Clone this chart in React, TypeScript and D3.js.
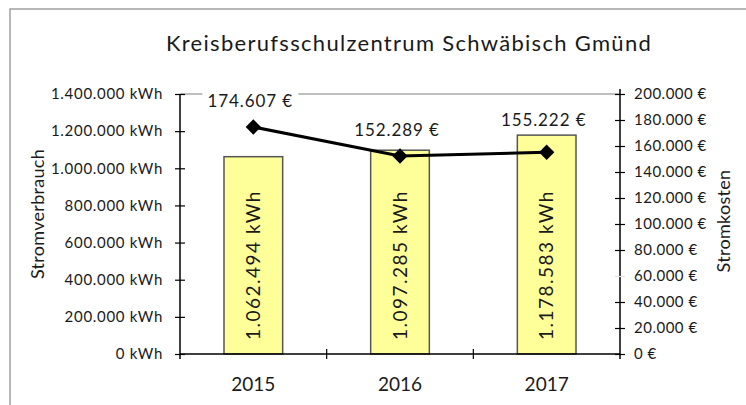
import React, { useEffect, useRef } from "react";
import * as d3 from "d3";

const years = ["2015", "2016", "2017"];
const consumption = [1062494, 1097285, 1178583];
const costs = [174607, 152289, 155222];
const kwhTicks = [0, 200000, 400000, 600000, 800000, 1000000, 1200000, 1400000];
const euroTicks = [0, 20000, 40000, 60000, 80000, 100000, 120000, 140000, 160000, 180000, 200000];

const FONT = "Lato, 'DejaVu Sans', sans-serif";

const App = () => {
  const ref = useRef<SVGSVGElement | null>(null);

  useEffect(() => {
    const width = 746;
    const height = 405;
    const margin = { top: 94, right: 126, bottom: 51, left: 180 };
    const de = d3.formatLocale({ decimal: ",", thousands: ".", grouping: [3], currency: ["", " €"] });
    const fmt = de.format(",.0f");

    const svg = d3.select(ref.current);
    svg.selectAll("*").remove();

    // outer chart frame (runs off to the right and bottom)
    svg
      .append("rect")
      .attr("x", 10)
      .attr("y", 9)
      .attr("width", 800)
      .attr("height", 500)
      .attr("fill", "white")
      .attr("stroke", "#a0a0a0")
      .attr("stroke-width", 1.5);

    const x = d3
      .scaleBand()
      .domain(years)
      .range([margin.left, width - margin.right]);

    const yL = d3
      .scaleLinear()
      .domain([0, 1400000])
      .range([height - margin.bottom, margin.top]);

    const yR = d3
      .scaleLinear()
      .domain([0, 200000])
      .range([height - margin.bottom, margin.top]);

    const barW = x.bandwidth() / 2.5;

    svg
      .append("text")
      .attr("x", 409)
      .attr("y", 51)
      .attr("text-anchor", "middle")
      .attr("font-family", FONT)
      .attr("font-size", 22)
      .attr("letter-spacing", 1.3)
      .attr("fill", "#1a1a1a")
      .text("Kreisberufsschulzentrum Schwäbisch Gmünd");

    // plot area top border
    svg
      .append("line")
      .attr("x1", margin.left)
      .attr("x2", width - margin.right)
      .attr("y1", margin.top)
      .attr("y2", margin.top)
      .attr("stroke", "#808080")
      .attr("stroke-width", 1.2);

    // bars
    svg
      .selectAll("rect.bar")
      .data(consumption)
      .join("rect")
      .attr("class", "bar")
      .attr("x", (d, i) => x(years[i])! + (x.bandwidth() - barW) / 2)
      .attr("y", (d) => yL(d))
      .attr("width", barW)
      .attr("height", (d) => yL(0) - yL(d))
      .attr("fill", "#ffff99")
      .attr("stroke", "#555")
      .attr("stroke-width", 1.5);

    svg
      .selectAll("text.barlabel")
      .data(consumption)
      .join("text")
      .attr("class", "barlabel")
      .attr("transform", (d, i) => `translate(${x(years[i])! + x.bandwidth() / 2},${yL(0) - 14}) rotate(-90)`)
      .attr("dy", "0.35em")
      .attr("font-family", FONT)
      .attr("font-size", 19)
      .attr("letter-spacing", 1.5)
      .attr("fill", "#1a1a1a")
      .text((d) => `${fmt(d)} kWh`);

    // left axis
    const gL = svg
      .append("g")
      .attr("transform", `translate(${margin.left},0)`)
      .call(d3.axisLeft(yL).tickValues(kwhTicks).tickSizeOuter(0).tickFormat((d) => `${fmt(d as number)} kWh`));
    gL.select(".domain").attr("stroke", "#000").attr("stroke-width", 1.5).attr("d", `M0,${margin.top}V${yL(0) + 5}`);
    gL.selectAll(".tick line").attr("x1", -5).attr("x2", 5).attr("stroke", "#000").attr("stroke-width", 1.2);
    gL.selectAll(".tick text")
      .attr("x", -17)
      .attr("font-family", FONT)
      .attr("font-size", 15)
      .attr("letter-spacing", 0.7)
      .attr("fill", "#1a1a1a");

    // right axis
    const gR = svg
      .append("g")
      .attr("transform", `translate(${width - margin.right},0)`)
      .call(d3.axisRight(yR).tickValues(euroTicks).tickSizeOuter(0).tickFormat((d) => `${fmt(d as number)} €`));
    gR.select(".domain").attr("stroke", "#000").attr("stroke-width", 1.5).attr("d", `M0,${margin.top - 5}V${yL(0) + 5}`);
    gR.selectAll(".tick line")
      .attr("x1", -5)
      .attr("x2", 5)
      .attr("stroke", (d) => ((d as number) === 60000 ? "#e0e0e0" : "#000"))
      .attr("stroke-width", 1.2);
    gR.selectAll(".tick text")
      .attr("x", 14)
      .attr("font-family", FONT)
      .attr("font-size", 15)
      .attr("letter-spacing", 0.5)
      .attr("fill", "#1a1a1a");

    // bottom axis
    const gB = svg
      .append("g")
      .attr("transform", `translate(0,${yL(0)})`)
      .call(d3.axisBottom(x).tickSize(0).tickPadding(24));
    gB.select(".domain").attr("stroke", "#000").attr("stroke-width", 1.5).attr("d", `M${margin.left},0H${width - margin.right}`);
    gB.selectAll(".tick text").attr("font-family", FONT).attr("font-size", 19).attr("fill", "#1a1a1a");
    gB.selectAll("line.cat")
      .data(years.slice(1))
      .join("line")
      .attr("class", "cat")
      .attr("x1", (d) => x(d)!)
      .attr("x2", (d) => x(d)!)
      .attr("y1", -5)
      .attr("y2", 5)
      .attr("stroke", "#000")
      .attr("stroke-width", 1.2);

    // axis titles
    svg
      .append("text")
      .attr("transform", `translate(38,214) rotate(-90)`)
      .attr("text-anchor", "middle")
      .attr("dy", "0.35em")
      .attr("font-family", FONT)
      .attr("font-size", 18)
      .attr("letter-spacing", 0.3)
      .attr("fill", "#1a1a1a")
      .text("Stromverbrauch");
    svg
      .append("text")
      .attr("transform", `translate(724,221) rotate(-90)`)
      .attr("text-anchor", "middle")
      .attr("dy", "0.35em")
      .attr("font-family", FONT)
      .attr("font-size", 18)
      .attr("letter-spacing", 0.3)
      .attr("fill", "#1a1a1a")
      .text("Stromkosten");

    // cost line
    const line = d3
      .line<number>()
      .x((d, i) => x(years[i])! + x.bandwidth() / 2)
      .y((d) => yR(d));

    svg
      .append("path")
      .datum(costs)
      .attr("fill", "none")
      .attr("stroke", "#000")
      .attr("stroke-width", 3)
      .attr("d", line);

    svg
      .selectAll("path.marker")
      .data(costs)
      .join("path")
      .attr("class", "marker")
      .attr("transform", (d, i) => `translate(${x(years[i])! + x.bandwidth() / 2},${yR(d)})`)
      .attr("d", d3.symbol(d3.symbolDiamond2, 150)())
      .attr("fill", "#000");

    // cost labels sit above the point and clear of the bar top
    const labels = svg
      .selectAll("g.costlabel")
      .data(costs)
      .join("g")
      .attr("class", "costlabel")
      .attr(
        "transform",
        (d, i) => `translate(${x(years[i])! + x.bandwidth() / 2 - 3},${Math.min(yR(d) - 20, yL(consumption[i]) - 9)})`,
      );
    labels
      .append("rect")
      .attr("x", -48)
      .attr("y", -14)
      .attr("width", 96)
      .attr("height", 17)
      .attr("fill", "white");
    labels
      .append("text")
      .attr("text-anchor", "middle")
      .attr("font-family", FONT)
      .attr("font-size", 17)
      .attr("letter-spacing", 0.9)
      .attr("fill", "#1a1a1a")
      .text((d) => `${fmt(d)} €`);
  }, []);

  return (
    <svg
      ref={ref}
      width={746}
      height={405}
      style={{ position: "absolute", left: 0, top: 0, display: "block" }}
    />
  );
};

export default App;
